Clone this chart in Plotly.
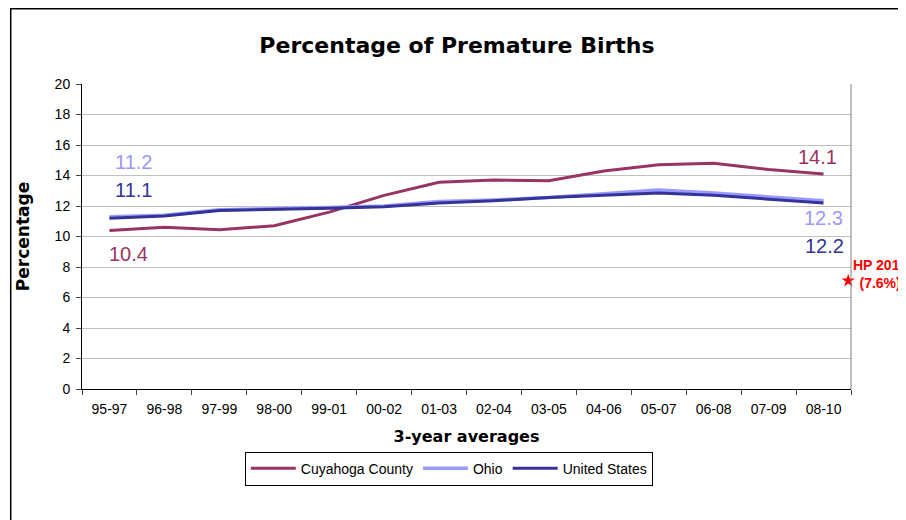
import plotly.graph_objects as go

periods = ["95-97", "96-98", "97-99", "98-00", "99-01", "00-02", "01-03",
           "02-04", "03-05", "04-06", "05-07", "06-08", "07-09", "08-10"]
cuyahoga = [10.4, 10.6, 10.45, 10.7, 11.6, 12.7, 13.55, 13.7, 13.65, 14.3, 14.7, 14.8, 14.4, 14.1]
ohio = [11.3, 11.4, 11.75, 11.8, 11.9, 12.0, 12.3, 12.4, 12.55, 12.8, 13.05, 12.85, 12.6, 12.35]
us = [11.2, 11.35, 11.7, 11.75, 11.85, 11.95, 12.2, 12.35, 12.55, 12.7, 12.85, 12.7, 12.45, 12.2]
hp_target = 7.1

C_CUY = "#993366"
C_OH = "#9999FF"
C_US = "#333399"
FONT = "Liberation Sans, Arial, sans-serif"
BOLD_FONT = "DejaVu Sans, Liberation Sans, sans-serif"

fig = go.Figure()
fig.add_trace(go.Scatter(x=periods, y=cuyahoga, name="Cuyahoga County", mode="lines",
                         line=dict(color=C_CUY, width=3)))
fig.add_trace(go.Scatter(x=periods, y=ohio, name="Ohio", mode="lines",
                         line=dict(color=C_OH, width=3.5)))
fig.add_trace(go.Scatter(x=periods, y=us, name="United States", mode="lines",
                         line=dict(color=C_US, width=3)))
# HP 2010 target star, on an overlaid numeric axis so it can sit on the plot edge
fig.add_trace(go.Scatter(x=[len(periods) - 0.55], y=[hp_target], xaxis="x2", mode="markers",
                         marker=dict(symbol="star", color="#FF0000", size=10),
                         showlegend=False, cliponaxis=False))

# end-point value labels
labels = [
    (periods[0], ohio[0], "11.2", C_OH, 24, 55),
    (periods[0], us[0], "11.1", C_US, 24, 28),
    (periods[0], cuyahoga[0], "10.4", C_CUY, 19, -24),
    (periods[-1], cuyahoga[-1], "14.1", C_CUY, -6, 17),
    (periods[-1], ohio[-1], "12.3", C_OH, 0, -17),
    (periods[-1], us[-1], "12.2", C_US, 1, -43),
]
for x, y, t, c, dx, dy in labels:
    fig.add_annotation(x=x, y=y, text=t, showarrow=False, xshift=dx, yshift=dy,
                       font=dict(size=20, color=c, family=FONT))

fig.add_annotation(xref="paper", yref="paper", x=1.0, y=0.378, xanchor="left",
                   text="<b>HP 2010<br>(7.6%)</b>", align="center", showarrow=False,
                   font=dict(size=14, color="#FF0000", family=FONT))

# outer frame and right plot edge
fig.add_shape(type="rect", xref="paper", yref="paper", x0=-0.0927, x1=1.2, y0=-0.5, y1=1.247,
              line=dict(color="#000000", width=1.5))
fig.add_shape(type="line", xref="paper", yref="paper", x0=1, x1=1, y0=0, y1=1,
              line=dict(color="#808080", width=1))

fig.update_layout(
    width=898, height=512,
    margin=dict(l=74, r=55, t=76, b=131),
    paper_bgcolor="white", plot_bgcolor="white",
    font=dict(family=FONT, color="#000000", size=14),
    title=dict(text="<b>Percentage of Premature Births</b>", x=0.5, xanchor="center",
               y=0.928, yanchor="middle", font=dict(size=22, family=BOLD_FONT)),
    xaxis=dict(type="category", tickson="boundaries", ticks="outside", ticklen=5,
               showline=True, linecolor="#000000", linewidth=1, showgrid=False,
               tickfont=dict(size=14), range=[-0.5, len(periods) - 0.5],
               ticklabelstandoff=7,
               title=dict(text="<b>3-year averages</b>", font=dict(size=16, family=BOLD_FONT),
                          standoff=15)),
    xaxis2=dict(overlaying="x", range=[-0.5, len(periods) - 0.5], visible=False),
    yaxis=dict(range=[0, 20], dtick=2, ticks="outside", ticklen=5, showline=True,
               linecolor="#000000", linewidth=1, gridcolor="#C0C0C0", gridwidth=1,
               tickfont=dict(size=14), zeroline=False, ticklabelstandoff=3,
               title=dict(text="<b>Percentage</b>", font=dict(size=17, family=BOLD_FONT),
                          standoff=20)),
    legend=dict(orientation="h", x=0.477, xanchor="center", y=-0.205, yanchor="top",
                bordercolor="#000000", borderwidth=1, font=dict(size=14),
                itemwidth=45, tracegroupgap=0),
    showlegend=True,
)

fig.write_html("out.html")
